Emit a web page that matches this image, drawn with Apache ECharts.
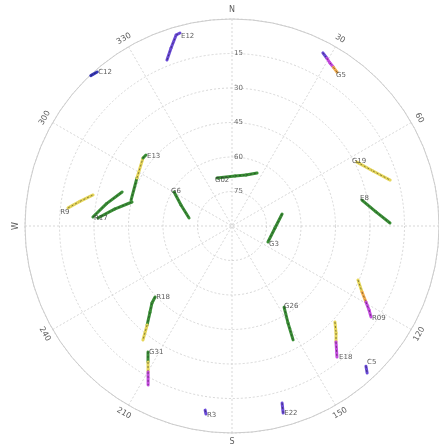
<!DOCTYPE html>
<html>
<head>
<meta charset="utf-8">
<script src="https://cdn.jsdelivr.net/npm/echarts@6/dist/echarts.min.js"></script>
<style>
  html, body { margin: 0; padding: 0; background: #ffffff; }
  #sky { width: 439px; height: 446px; }
</style>
</head>
<body>
<div id="sky"></div>
<script>
// Sky plot of satellite passes: azimuth clockwise from north, elevation towards the centre.
const azimuthTicks = [0, 30, 60, 90, 120, 150, 180, 210, 240, 270, 300, 330];
const azimuthLabels = ['N', '30', '60', 'E', '120', '150', 'S', '210', '240', 'W', '300', '330'];
const elevationTicks = [15, 30, 45, 60, 75];

// One entry per pass: satellite id, azimuth (deg), elevation (deg), signal strength (dB-Hz)
const satNames = ['E12', 'C12', '', 'G5', 'R9', 'R17', '', 'E13', 'G6', 'G02', 'G19', 'E8', 'G3',
                  'R18', 'G31', 'G26', 'R09', 'E18', 'C5', 'E22', 'R3'];
const satAzimuth = [
  [338.6, 341.1, 343.7, 344.9],
  [316.8, 318.8],
  [26.2],
  [27.7, 29.5, 31.0, 32.6, 34.3],
  [276.3, 279.2, 282.6],
  [273.7, 280.1, 287.2],
  [273.4, 278.2, 283.5],
  [284.4, 296.8, 307.4, 309.5],
  [300.4, 292.4, 280.5],
  [342.6, 3.4, 15.4, 25.3],
  [62.9, 68.7, 73.8],
  [78.7, 84.4, 88.9],
  [76.5, 92.7, 114.0],
  [227.3, 226.1, 223.6, 220.6, 218.0],
  [213.7, 211.7, 209.9, 207.8],
  [147.3, 150.0, 151.8],
  [113.2, 116.9, 119.6, 121.5, 123.2],
  [133.0, 135.8, 138.1, 141.3],
  [136.3, 137.4],
  [164.2, 164.7],
  [188.3, 187.9]
];
const satElevation = [
  [12.5, 8.2, 3.5, 3.1],
  [0.3, 1.0],
  [3.3],
  [5.0, 6.2, 7.3, 8.1, 9.0],
  [18.3, 23.0, 28.1],
  [29.4, 34.6, 40.0],
  [31.6, 38.4, 45.3],
  [44.7, 43.7, 41.3, 41.5],
  [60.8, 66.0, 71.0],
  [68.1, 68.2, 67.0, 64.5],
  [29.0, 24.2, 18.4],
  [32.4, 27.1, 21.3],
  [67.6, 71.3, 72.9],
  [44.5, 41.7, 38.3, 33.3, 27.1],
  [24.2, 20.5, 16.8, 11.8],
  [48.1, 41.3, 33.8],
  [30.4, 26.6, 23.0, 20.1, 17.8],
  [28.8, 25.1, 22.3, 17.0],
  [5.7, 3.2],
  [10.0, 5.7],
  [9.1, 7.5]
];
const satSnr = [
  [26, 27, 26, 27],
  [22, 23],
  [27],
  [27, 31, 33, 36, 37],
  [39, 40, 42],
  [44, 45, 45],
  [45, 44, 45],
  [44, 41, 44, 44],
  [45, 45, 45],
  [44, 45, 45, 45],
  [39, 39, 38],
  [44, 45, 44],
  [45, 45, 45],
  [44, 45, 43, 39, 37],
  [43, 39, 33, 31],
  [45, 45, 45],
  [39, 37, 33, 30, 30],
  [39, 39, 31, 31],
  [25, 25],
  [26, 26],
  [26, 26]
];

// Which sample of each pass carries the id, and how its text sits next to it
const labelAt = [3, 1, 0, 4, 0, 0, 0, 3, 0, 0, 0, 0, 2, 0, 0, 0, 4, 3, 0, 1, 1];
const labelOffset = [
  [0, 3], [0, 0], [0, 0], [-2, 3], [-9, 4], [0, 1], [0, 0], [0, 1], [-4, -1], [-3, 2],
  [-6, -1], [-3, -2], [0, 2], [0, 0], [0, 0], [-1, -1], [0, 1], [1, 0], [0, -4], [0, 0], [0, 1]
];

function snrColor(v) {
  if (v < 24) return '#3636b8';
  if (v < 29) return '#6a4ad8';
  if (v < 34) return '#c54be0';
  if (v < 38) return '#f2ad4e';
  if (v < 42) return '#e6d65a';
  return '#3a8f36';
}

const segments = [];
const idLabels = [];
satNames.forEach((name, i) => {
  const az = satAzimuth[i], el = satElevation[i], snr = satSnr[i];
  if (az.length === 1) {
    segments.push([90 - el[0], az[0], 90 - el[0], az[0], snr[0]]);
  }
  for (let k = 0; k < az.length - 1; k++) {
    segments.push([90 - el[k], az[k], 90 - el[k + 1], az[k + 1], snr[k]]);
  }
  if (name) {
    const j = labelAt[i];
    idLabels.push({
      name: name,
      value: [90 - el[j], az[j]],
      label: { offset: labelOffset[i] }
    });
  }
});

const FONT = 'DejaVu Sans';
const GRID = '#cdcdcd';

const compassLabels = azimuthTicks.map((a, i) => ({
  name: azimuthLabels[i],
  value: [94, a],
  label: { rotate: (a > 90 && a < 270) ? 180 - a : -a }
}));
const ringLabels = elevationTicks.map(e => ({ name: String(e), value: [90 - e, 0] }));

const chart = echarts.init(document.getElementById('sky'), null, { renderer: 'canvas' });
chart.setOption({
  animation: false,
  backgroundColor: '#ffffff',
  polar: { center: [232, 226], radius: 207 },
  angleAxis: {
    type: 'value', min: 0, max: 360, interval: 30,
    startAngle: 90, clockwise: true,
    axisLine: { show: true, lineStyle: { color: GRID, width: 1 } },
    axisTick: { show: false },
    axisLabel: { show: false },
    splitLine: { show: true, lineStyle: { color: GRID, width: 0.8, type: [2, 2] } }
  },
  radiusAxis: {
    type: 'value', min: 0, max: 90, interval: 15,
    axisLine: { show: false },
    axisTick: { show: false },
    axisLabel: { show: false },
    splitLine: { show: true, lineStyle: { color: GRID, width: 0.8, type: [2, 2] } }
  },
  series: [
    {
      type: 'custom',
      coordinateSystem: 'polar',
      data: segments,
      z: 3,
      renderItem: function (params, api) {
        const a = api.coord([api.value(0), api.value(1)]);
        const b = api.coord([api.value(2), api.value(3)]);
        const shape = { x1: a[0], y1: a[1], x2: b[0], y2: b[1] };
        return {
          type: 'group',
          children: [
            { type: 'line', shape: shape,
              style: { stroke: snrColor(api.value(4)), lineWidth: 3, lineCap: 'round' } },
            { type: 'line', shape: shape,
              style: { stroke: 'rgba(25,25,25,0.5)', lineWidth: 1, lineDash: [2, 2] } }
          ]
        };
      }
    },
    {
      type: 'scatter',
      coordinateSystem: 'polar',
      data: idLabels,
      symbolSize: 0.1,
      itemStyle: { color: 'transparent' },
      clip: false,
      z: 4,
      label: {
        show: true, position: 'right', distance: 1,
        formatter: '{b}', fontFamily: FONT, fontSize: 7, color: '#333333'
      }
    },
    {
      type: 'scatter',
      coordinateSystem: 'polar',
      data: compassLabels,
      symbolSize: 0.1,
      itemStyle: { color: 'transparent' },
      clip: false,
      label: {
        show: true, position: 'inside',
        formatter: '{b}', fontFamily: FONT, fontSize: 8, color: '#333333'
      }
    },
    {
      type: 'scatter',
      coordinateSystem: 'polar',
      data: ringLabels,
      symbolSize: 0.1,
      itemStyle: { color: 'transparent' },
      clip: false,
      label: {
        show: true, position: 'right', distance: 2,
        formatter: '{b}', fontFamily: FONT, fontSize: 7, color: '#444444'
      }
    }
  ]
});
</script>
</body>
</html>
